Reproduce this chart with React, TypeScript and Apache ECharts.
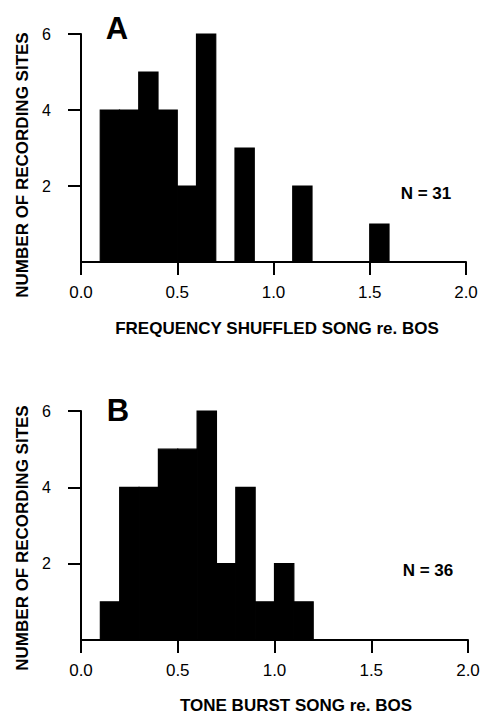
import React, { useEffect, useRef } from "react";
import * as echarts from "echarts";

// Histogram bins (0.1 wide) along the response ratio axis
const BIN_EDGES = [0.0, 0.1, 0.2, 0.3, 0.4, 0.5, 0.6, 0.7, 0.8, 0.9, 1.0, 1.1, 1.2, 1.3, 1.4, 1.5, 1.6, 1.7, 1.8, 1.9, 2.0];

// Number of recording sites per bin
const COUNTS_SHUFFLED = [0, 4, 4, 5, 4, 2, 6, 0, 3, 0, 0, 2, 0, 0, 0, 1, 0, 0, 0, 0];
const COUNTS_TONE = [0, 1, 4, 4, 5, 5, 6, 2, 4, 1, 2, 1, 0, 0, 0, 0, 0, 0, 0, 0];

const X_TICKS = [0, 0.5, 1.0, 1.5, 2.0];
const Y_TICKS = [2, 4, 6];

const PANELS = [
  { letter: "A", xTitle: "FREQUENCY SHUFFLED SONG re. BOS", n: "N = 31", counts: COUNTS_SHUFFLED },
  { letter: "B", xTitle: "TONE BURST SONG re. BOS", n: "N = 36", counts: COUNTS_TONE },
];

const FONT = "'Liberation Sans', Arial, Helvetica, sans-serif";

function toBins(counts: number[]) {
  const out: number[][] = [];
  counts.forEach((c, i) => {
    if (c > 0) out.push([BIN_EDGES[i], BIN_EDGES[i + 1], c]);
  });
  return out;
}

export default function App() {
  const ref = useRef<HTMLDivElement>(null);

  useEffect(() => {
    if (!ref.current) return;
    const chart = echarts.init(ref.current, null, { renderer: "svg" });

    const grids = [
      { left: 81, right: 32, top: 34, bottom: 451 },
      { left: 81, right: 30, top: 411, bottom: 73 },
    ];

    const axisLine = { show: true, onZero: false, lineStyle: { color: "#000", width: 2 } };

    const xAxes = PANELS.map((_, i) => ({
      gridIndex: i,
      type: "value",
      min: 0,
      max: 2,
      interval: 0.5,
      axisLine,
      axisTick: { show: true, length: 13, customValues: X_TICKS, lineStyle: { color: "#000", width: 2 } },
      axisLabel: {
        customValues: X_TICKS,
        margin: 22,
        fontSize: 17,
        color: "#000",
        fontFamily: FONT,
        formatter: (v: number) => v.toFixed(1),
      },
      splitLine: { show: false },
    }));

    const yAxes = PANELS.map((_, i) => ({
      gridIndex: i,
      type: "value",
      min: 0,
      max: 6,
      interval: 2,
      axisLine,
      axisTick: { show: true, length: 13, customValues: Y_TICKS, lineStyle: { color: "#000", width: 2 } },
      axisLabel: {
        customValues: Y_TICKS,
        margin: 30,
        fontSize: 16,
        color: "#000",
        fontFamily: FONT,
      },
      splitLine: { show: false },
    }));

    const series = PANELS.map((p, i) => ({
      type: "custom",
      xAxisIndex: i,
      yAxisIndex: i,
      encode: { x: [0, 1], y: 2 },
      data: toBins(p.counts),
      renderItem: (_params: any, api: any) => {
        const top = api.coord([api.value(0), api.value(2)]);
        const bottom = api.coord([api.value(1), 0]);
        return {
          type: "rect",
          shape: { x: top[0], y: top[1], width: bottom[0] - top[0], height: bottom[1] - top[1] },
          style: { fill: "#000", stroke: "#000", lineWidth: 1.2 },
        };
      },
    }));

    const textStyle = (size: number, bold: boolean) => ({
      fill: "#000",
      fontSize: size,
      fontWeight: bold ? "bold" : "normal",
      fontFamily: FONT,
      align: "center",
      verticalAlign: "middle",
    });

    const layout = [
      { yTitleY: 165, letter: [117, 28], n: [426, 193], xTitle: [277, 328] },
      { yTitleY: 538, letter: [118, 410], n: [428, 570], xTitle: [296, 705] },
    ];

    const graphic: any[] = [];
    PANELS.forEach((p, i) => {
      const l = layout[i];
      graphic.push(
        {
          type: "text",
          x: 22,
          y: l.yTitleY,
          rotation: Math.PI / 2,
          style: { text: "NUMBER OF RECORDING SITES", ...textStyle(17, true) },
        },
        { type: "text", x: l.letter[0], y: l.letter[1], style: { text: p.letter, ...textStyle(31, true) } },
        { type: "text", x: l.n[0], y: l.n[1], style: { text: p.n, ...textStyle(17, true) } },
        { type: "text", x: l.xTitle[0], y: l.xTitle[1], style: { text: p.xTitle, ...textStyle(17, true) } }
      );
    });

    chart.setOption({
      animation: false,
      backgroundColor: "#fff",
      grid: grids,
      xAxis: xAxes,
      yAxis: yAxes,
      series,
      graphic,
    });

    return () => chart.dispose();
  }, []);

  return (
    <div
      ref={ref}
      style={{ position: "absolute", left: 0, top: 0, width: 498, height: 713, background: "#fff" }}
    />
  );
}
